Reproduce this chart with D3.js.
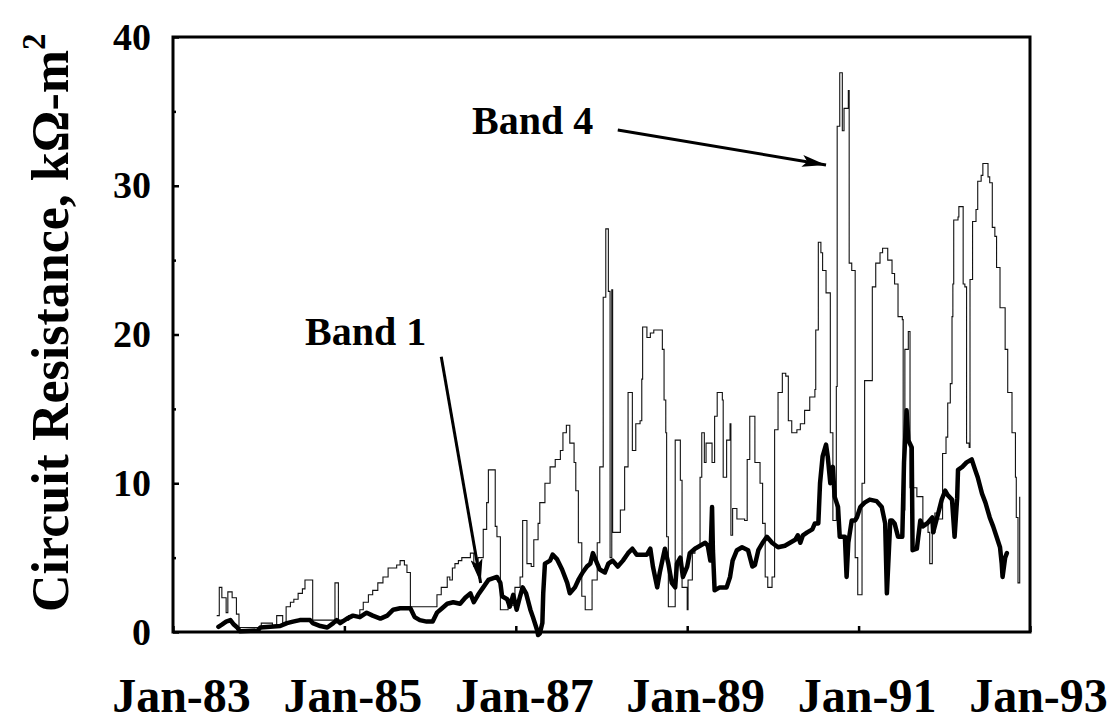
<!DOCTYPE html>
<html>
<head>
<meta charset="utf-8">
<script src="https://cdn.jsdelivr.net/npm/d3@7"></script>
<style>
  body { margin: 0; background: #fff; }
  text { font-family: "Liberation Serif", "Times New Roman", serif; font-weight: bold; fill: #000; }
</style>
</head>
<body>
<svg id="chart" width="1112" height="725"></svg>
<script>
// Band 4 (thin line): [decimal year, kOhm-m2]
const band4 = [
  [1983.51, 1.1], [1983.54, 3.0], [1983.57, 2.3], [1983.62, 1.3], [1983.64, 2.7], [1983.69, 2.3],
  [1983.74, 1.2], [1983.77, 0.3], [1984.03, 0.6], [1984.16, 0.4], [1984.21, 1.1], [1984.28, 0.6],
  [1984.32, 1.7], [1984.37, 2.0], [1984.41, 2.2], [1984.46, 2.6], [1984.51, 2.9], [1984.54, 3.5],
  [1984.63, 0.8], [1984.89, 3.3], [1984.93, 0.8], [1985.05, 1.1], [1985.16, 1.1], [1985.18, 1.5],
  [1985.22, 2.0], [1985.28, 2.5], [1985.33, 2.8], [1985.39, 3.3], [1985.45, 3.7], [1985.51, 4.3],
  [1985.61, 4.5], [1985.65, 4.8], [1985.70, 4.5], [1985.73, 4.0], [1985.77, 1.7], [1986.06, 1.7],
  [1986.08, 2.5], [1986.13, 3.0], [1986.20, 3.7], [1986.23, 3.5], [1986.26, 4.3], [1986.29, 4.6],
  [1986.33, 4.8], [1986.37, 5.0], [1986.47, 5.3], [1986.51, 4.4], [1986.56, 5.0], [1986.62, 6.9],
  [1986.66, 8.7], [1986.68, 10.9], [1986.72, 10.9], [1986.76, 7.1], [1986.78, 6.4], [1986.82, 1.5],
  [1986.91, 1.8], [1986.99, 3.0], [1987.05, 3.7], [1987.08, 7.5], [1987.13, 4.6], [1987.18, 4.4],
  [1987.21, 6.2], [1987.26, 7.3], [1987.28, 8.7], [1987.34, 10.0], [1987.40, 11.1], [1987.46, 11.6],
  [1987.52, 12.2], [1987.55, 13.4], [1987.59, 13.9], [1987.63, 12.7], [1987.68, 11.4], [1987.70, 9.5],
  [1987.73, 6.0], [1987.77, 2.4], [1987.81, 1.5], [1987.89, 3.5], [1987.95, 6.0], [1987.98, 11.1],
  [1988.02, 22.5], [1988.05, 27.1], [1988.08, 22.9], [1988.10, 5.0], [1988.12, 23.0], [1988.13, 6.7],
  [1988.19, 6.7], [1988.22, 8.2], [1988.27, 11.1], [1988.31, 16.1], [1988.36, 12.2], [1988.40, 14.0],
  [1988.45, 14.2], [1988.47, 17.0], [1988.48, 20.5], [1988.53, 19.8], [1988.57, 20.1], [1988.61, 20.3],
  [1988.68, 20.3], [1988.71, 19.0], [1988.73, 15.6], [1988.75, 13.4], [1988.76, 6.4], [1988.78, 1.7],
  [1988.86, 12.9], [1988.92, 10.2], [1988.94, 3.0], [1989.00, 1.5], [1989.01, 3.5], [1989.06, 5.3],
  [1989.09, 5.7], [1989.15, 10.4], [1989.17, 13.4], [1989.20, 11.4], [1989.22, 12.7], [1989.29, 11.4],
  [1989.32, 14.5], [1989.35, 16.1], [1989.41, 15.6], [1989.42, 10.4], [1989.46, 12.9], [1989.50, 14.0],
  [1989.51, 6.5], [1989.53, 8.3], [1989.58, 7.6], [1989.67, 7.5], [1989.70, 11.6], [1989.73, 14.5],
  [1989.79, 11.4], [1989.85, 10.0], [1989.88, 7.3], [1989.91, 3.7], [1989.94, 3.0], [1989.99, 3.7],
  [1990.02, 13.6], [1990.06, 16.1], [1990.11, 17.4], [1990.15, 17.2], [1990.18, 14.2], [1990.22, 13.4],
  [1990.28, 13.6], [1990.32, 14.0], [1990.37, 14.9], [1990.43, 15.8], [1990.49, 16.3], [1990.50, 20.3],
  [1990.53, 26.2], [1990.56, 25.5], [1990.58, 24.3], [1990.62, 22.8], [1990.67, 13.4], [1990.70, 7.5],
  [1990.74, 16.5], [1990.75, 34.0], [1990.78, 37.6], [1990.81, 33.7], [1990.83, 35.2], [1990.88, 36.4],
  [1990.89, 24.8], [1990.92, 24.3], [1990.96, 5.0], [1990.99, 2.5], [1991.04, 10.0], [1991.07, 16.9],
  [1991.13, 16.9], [1991.16, 23.2], [1991.20, 24.8], [1991.25, 25.5], [1991.28, 25.8], [1991.34, 25.0],
  [1991.39, 24.1], [1991.42, 23.4], [1991.46, 21.2], [1991.51, 21.0], [1991.52, 8.2], [1991.54, 19.0],
  [1991.58, 20.2], [1991.60, 9.7], [1991.66, 9.7], [1991.68, 9.1], [1991.75, 7.3], [1991.81, 6.7],
  [1991.83, 4.6], [1991.86, 6.7], [1991.89, 8.0], [1991.93, 7.6], [1991.98, 12.0], [1992.02, 13.1],
  [1992.04, 15.4], [1992.07, 16.7], [1992.09, 21.2], [1992.10, 23.4], [1992.11, 27.7], [1992.16, 27.9],
  [1992.17, 28.6], [1992.21, 28.6], [1992.22, 23.4], [1992.24, 23.2], [1992.26, 12.7], [1992.29, 12.4],
  [1992.30, 23.7], [1992.33, 27.6], [1992.37, 28.4], [1992.39, 30.3], [1992.43, 30.7], [1992.45, 31.5],
  [1992.50, 31.5], [1992.51, 30.6], [1992.53, 30.2], [1992.56, 27.2], [1992.59, 26.6], [1992.61, 24.5],
  [1992.65, 21.8], [1992.71, 19.0], [1992.74, 16.1], [1992.79, 13.4], [1992.83, 10.4], [1992.84, 7.7],
  [1992.86, 3.3], [1992.88, 9.1]
];

// Band 1 (thick line): [decimal year, kOhm-m2]
const band1 = [
  [1983.53, 0.35], [1983.57, 0.5], [1983.62, 0.7], [1983.67, 0.8], [1983.71, 0.5], [1983.75, 0.3],
  [1983.78, 0.05], [1983.99, 0.1], [1984.02, 0.3], [1984.25, 0.4], [1984.33, 0.6], [1984.40, 0.7],
  [1984.48, 0.8], [1984.60, 0.8], [1984.63, 0.6], [1984.72, 0.4], [1984.80, 0.3], [1984.87, 0.6],
  [1984.91, 0.8], [1984.95, 0.6], [1985.03, 0.9], [1985.10, 1.1], [1985.18, 1.0], [1985.26, 1.3],
  [1985.33, 1.1], [1985.42, 0.9], [1985.50, 1.1], [1985.57, 1.5], [1985.65, 1.6], [1985.77, 1.6],
  [1985.82, 1.0], [1985.88, 0.8], [1985.96, 0.7], [1986.03, 0.7], [1986.08, 1.3], [1986.14, 1.6],
  [1986.20, 1.9], [1986.27, 2.0], [1986.35, 1.9], [1986.41, 2.3], [1986.47, 2.6], [1986.51, 2.0],
  [1986.56, 2.5], [1986.62, 3.0], [1986.68, 3.5], [1986.78, 3.7], [1986.82, 3.3], [1986.84, 2.4],
  [1986.90, 2.2], [1986.93, 1.7], [1986.97, 2.5], [1987.01, 1.5], [1987.05, 2.4], [1987.08, 3.0],
  [1987.12, 2.6], [1987.17, 1.5], [1987.20, 1.0], [1987.25, 0.1], [1987.26, -0.2], [1987.28, -0.1],
  [1987.31, 0.6], [1987.32, 2.6], [1987.34, 4.6], [1987.40, 4.8], [1987.43, 5.2], [1987.48, 4.9],
  [1987.54, 4.2], [1987.60, 3.3], [1987.63, 2.6], [1987.69, 3.0], [1987.73, 3.5], [1987.78, 4.0],
  [1987.83, 4.4], [1987.87, 4.6], [1987.90, 5.3], [1987.95, 4.6], [1987.98, 4.2], [1988.04, 4.0],
  [1988.08, 4.6], [1988.13, 4.8], [1988.19, 4.4], [1988.25, 4.8], [1988.31, 5.3], [1988.36, 5.6],
  [1988.41, 5.2], [1988.53, 5.2], [1988.57, 5.6], [1988.60, 4.4], [1988.65, 3.0], [1988.68, 4.0],
  [1988.74, 5.6], [1988.78, 4.6], [1988.82, 3.3], [1988.86, 3.0], [1988.88, 4.6], [1988.92, 5.0],
  [1988.95, 3.7], [1989.00, 4.4], [1989.03, 5.3], [1989.09, 5.6], [1989.15, 5.8], [1989.21, 6.0],
  [1989.24, 5.8], [1989.27, 4.8], [1989.29, 8.4], [1989.30, 5.5], [1989.32, 2.8], [1989.38, 3.0],
  [1989.46, 3.0], [1989.50, 3.7], [1989.53, 4.8], [1989.58, 5.5], [1989.64, 5.7], [1989.71, 5.5],
  [1989.76, 4.4], [1989.79, 4.5], [1989.83, 5.5], [1989.88, 6.0], [1989.93, 6.4], [1989.99, 6.0],
  [1990.06, 5.7], [1990.14, 5.8], [1990.20, 6.0], [1990.26, 6.2], [1990.29, 6.5], [1990.32, 6.0],
  [1990.35, 6.5], [1990.40, 6.7], [1990.46, 6.9], [1990.49, 7.3], [1990.53, 7.3], [1990.55, 10.0],
  [1990.58, 11.8], [1990.62, 12.6], [1990.64, 11.8], [1990.67, 10.0], [1990.70, 11.1], [1990.72, 9.1],
  [1990.76, 8.4], [1990.78, 6.4], [1990.84, 6.4], [1990.86, 3.7], [1990.88, 6.0], [1990.92, 7.5],
  [1990.96, 7.5], [1990.98, 7.7], [1991.02, 8.4], [1991.07, 8.7], [1991.13, 8.9], [1991.21, 8.8],
  [1991.27, 8.4], [1991.31, 7.3], [1991.33, 2.6], [1991.37, 7.5], [1991.39, 7.5], [1991.42, 7.3],
  [1991.46, 6.4], [1991.51, 6.4], [1991.53, 11.4], [1991.56, 14.9], [1991.58, 12.9], [1991.62, 12.4],
  [1991.63, 5.5], [1991.68, 5.6], [1991.72, 7.5], [1991.75, 7.1], [1991.80, 7.3], [1991.86, 7.7],
  [1991.87, 6.7], [1991.93, 8.0], [1991.97, 8.9], [1992.01, 9.5], [1992.04, 9.2], [1992.09, 8.9],
  [1992.12, 6.4], [1992.15, 9.0], [1992.16, 10.9], [1992.21, 11.1], [1992.26, 11.4], [1992.32, 11.6],
  [1992.36, 10.9], [1992.39, 10.4], [1992.44, 9.3], [1992.48, 8.7], [1992.53, 7.7], [1992.57, 7.1],
  [1992.61, 6.4], [1992.65, 5.7], [1992.67, 4.6], [1992.68, 3.7], [1992.71, 5.0], [1992.73, 5.3]
];

const xTickYears = [1983, 1985, 1987, 1989, 1991, 1993];
const xTickLabels = ["Jan-83", "Jan-85", "Jan-87", "Jan-89", "Jan-91", "Jan-93"];
const yTicks = [0, 10, 20, 30, 40];
const yMinorTicks = [5, 15, 25, 35];

// callout text and arrows, in data units
const labels = [
  { text: "Band 4", year: 1986.49, value: 33.5 },
  { text: "Band 1", year: 1984.54, value: 19.3 }
];
const arrows = [
  { from: [1988.19, 33.75], to: [1990.62, 31.4] },
  { from: [1986.13, 18.5], to: [1986.59, 3.3] }
];

const width = 1112, height = 725;
const margin = { top: 37, right: 82, bottom: 93, left: 173 };

const svg = d3.select("#chart");

const x = d3.scaleLinear()
  .domain([1983, 1993])
  .range([margin.left, width - margin.right]);

const y = d3.scaleLinear()
  .domain([0, 40])
  .range([height - margin.bottom, margin.top]);

// series
const thinLine = d3.line()
  .x(d => x(d[0]))
  .y(d => y(d[1]))
  .curve(d3.curveStepAfter);

const thickLine = d3.line()
  .x(d => x(d[0]))
  .y(d => y(d[1]));

svg.append("path")
  .datum(band4)
  .attr("d", thinLine)
  .attr("fill", "none")
  .attr("stroke", "#111")
  .attr("stroke-width", 1.1);

svg.append("path")
  .datum(band1)
  .attr("d", thickLine)
  .attr("fill", "none")
  .attr("stroke", "#000")
  .attr("stroke-width", 4.5)
  .attr("stroke-linejoin", "round")
  .attr("stroke-linecap", "round");

// plot frame
svg.append("rect")
  .attr("x", x.range()[0])
  .attr("y", y.range()[1])
  .attr("width", x.range()[1] - x.range()[0])
  .attr("height", y.range()[0] - y.range()[1])
  .attr("fill", "none")
  .attr("stroke", "#000")
  .attr("stroke-width", 3);

// y axis
const gy = svg.append("g")
  .attr("transform", `translate(${margin.left},0)`)
  .call(d3.axisLeft(y)
    .tickValues(yTicks)
    .tickSizeInner(-6)
    .tickSizeOuter(0)
    .tickPadding(22)
    .tickFormat(d3.format("d")));
gy.select(".domain").remove();
gy.selectAll(".tick line").attr("stroke-width", 2.5);
gy.selectAll("text")
  .attr("font-family", "Liberation Serif")
  .attr("font-size", 38)
  .attr("font-weight", "bold");

const gyMinor = svg.append("g")
  .attr("transform", `translate(${margin.left},0)`)
  .call(d3.axisLeft(y).tickValues(yMinorTicks).tickSizeInner(-3).tickSizeOuter(0).tickFormat(""));
gyMinor.select(".domain").remove();
gyMinor.selectAll(".tick line").attr("stroke-width", 2.5);

// x axis
const gx = svg.append("g")
  .attr("transform", `translate(0,${height - margin.bottom})`)
  .call(d3.axisBottom(x)
    .tickValues(xTickYears)
    .tickSizeInner(-6)
    .tickSizeOuter(0)
    .tickPadding(46)
    .tickFormat((d, i) => xTickLabels[i]));
gx.select(".domain").remove();
gx.selectAll(".tick line").attr("stroke-width", 2.5);
gx.selectAll("text")
  .attr("font-family", "Liberation Serif")
  .attr("font-size", 48)
  .attr("font-weight", "bold")
  .attr("dx", 8);

// y axis title
svg.append("text")
  .attr("transform", `translate(68,${height - margin.bottom - 20}) rotate(-90)`)
  .attr("text-anchor", "start")
  .attr("font-size", 52)
  .text("Circuit Resistance, kΩ-m")
  .append("tspan")
  .attr("font-size", 33)
  .attr("dy", -23)
  .text("2");

// callouts
svg.selectAll(".callout")
  .data(labels)
  .join("text")
  .attr("class", "callout")
  .attr("x", d => x(d.year))
  .attr("y", d => y(d.value))
  .attr("font-size", 40)
  .text(d => d.text);

svg.append("defs").append("marker")
  .attr("id", "head")
  .attr("markerUnits", "userSpaceOnUse")
  .attr("viewBox", "0 0 24 12")
  .attr("refX", 24)
  .attr("refY", 6)
  .attr("markerWidth", 24)
  .attr("markerHeight", 12)
  .attr("orient", "auto")
  .append("path")
  .attr("d", "M0,0L24,6L0,12L5,6z")
  .attr("fill", "#000");

svg.selectAll(".arrow")
  .data(arrows)
  .join("line")
  .attr("class", "arrow")
  .attr("x1", d => x(d.from[0]))
  .attr("y1", d => y(d.from[1]))
  .attr("x2", d => x(d.to[0]))
  .attr("y2", d => y(d.to[1]))
  .attr("stroke", "#000")
  .attr("stroke-width", 3)
  .attr("marker-end", "url(#head)");
</script>
</body>
</html>
